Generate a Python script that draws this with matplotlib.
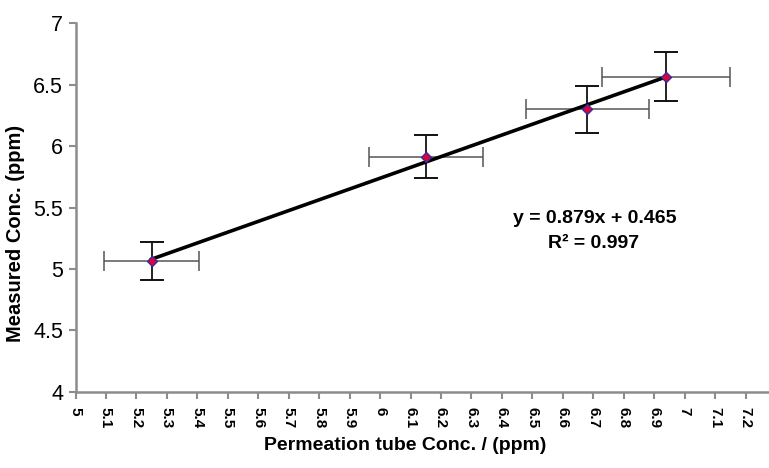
import numpy as np
import matplotlib
matplotlib.use("Agg")
import matplotlib.pyplot as plt

plt.rcParams["font.family"] = ["Liberation Sans", "DejaVu Sans"]

# data
perm_conc = [5.25, 6.15, 6.68, 6.94]        # x, ppm
meas_conc = [5.065, 5.915, 6.30, 6.565]      # y, ppm
x_err = [0.157, 0.187, 0.202, 0.21]
y_err = [0.153, 0.178, 0.19, 0.20]
slope, intercept = 0.879, 0.465
x_ticks = np.round(np.arange(5.0, 7.21, 0.1), 1)
y_ticks = [4, 4.5, 5, 5.5, 6, 6.5, 7]

fig = plt.figure(figsize=(7.69, 4.68), dpi=100)
ax = fig.add_axes([0.0982, 0.163, 0.9018, 0.787])

# error bars: horizontal grey, vertical black
ax.errorbar(perm_conc, meas_conc, xerr=x_err, fmt="none", ecolor="#555555",
            elinewidth=1.1, capsize=7.5, capthick=1.1, zorder=2)
ax.errorbar(perm_conc, meas_conc, yerr=y_err, fmt="none", ecolor="#111111",
            elinewidth=1.3, capsize=8.5, capthick=1.4, zorder=2)

# linear trendline over the data range
xf = np.array([min(perm_conc), max(perm_conc)])
ax.plot(xf, slope * xf + intercept, color="black", lw=2.6, zorder=3)

ax.plot(perm_conc, meas_conc, "D", ms=5, mfc="#e0003a", mec="#3a2a9a", mew=1.0,
        zorder=4)

ax.text(6.705, 5.41, f"y = {slope}x + {intercept}", ha="center", va="center",
        fontsize=14, fontweight="bold")
ax.text(6.70, 5.205, "R\u00b2 = 0.997", ha="center", va="center",
        fontsize=14, fontweight="bold")

ax.set_xlim(5.0, 7.277)
ax.set_ylim(4, 7)
ax.set_xticks(x_ticks)
ax.set_xticklabels([f"{t:g}" for t in x_ticks], rotation=270, fontsize=11,
                   fontweight="bold")
ax.set_yticks(y_ticks)
ax.set_yticklabels([f"{t:g}" for t in y_ticks], fontsize=15.5)

for s in ("top", "right"):
    ax.spines[s].set_visible(False)
for s in ("left", "bottom"):
    ax.spines[s].set_color("#8c8c8c")
    ax.spines[s].set_linewidth(1.8)
ax.tick_params(axis="both", colors="#8c8c8c", length=5, width=1.5,
               labelcolor="black")
ax.tick_params(axis="x", pad=6)
ax.tick_params(axis="y", pad=4)

ax.set_xlabel("Permeation tube Conc. / (ppm)", fontsize=14, fontweight="bold")
ax.set_ylabel("Measured Conc. (ppm)", fontsize=14.5, fontweight="bold")
# the original labels sit a little off-centre
ax.xaxis.set_label_coords(0.475, -0.122)
ax.yaxis.set_label_coords(-0.073, 0.43)

fig.savefig("out.png", dpi=100)
